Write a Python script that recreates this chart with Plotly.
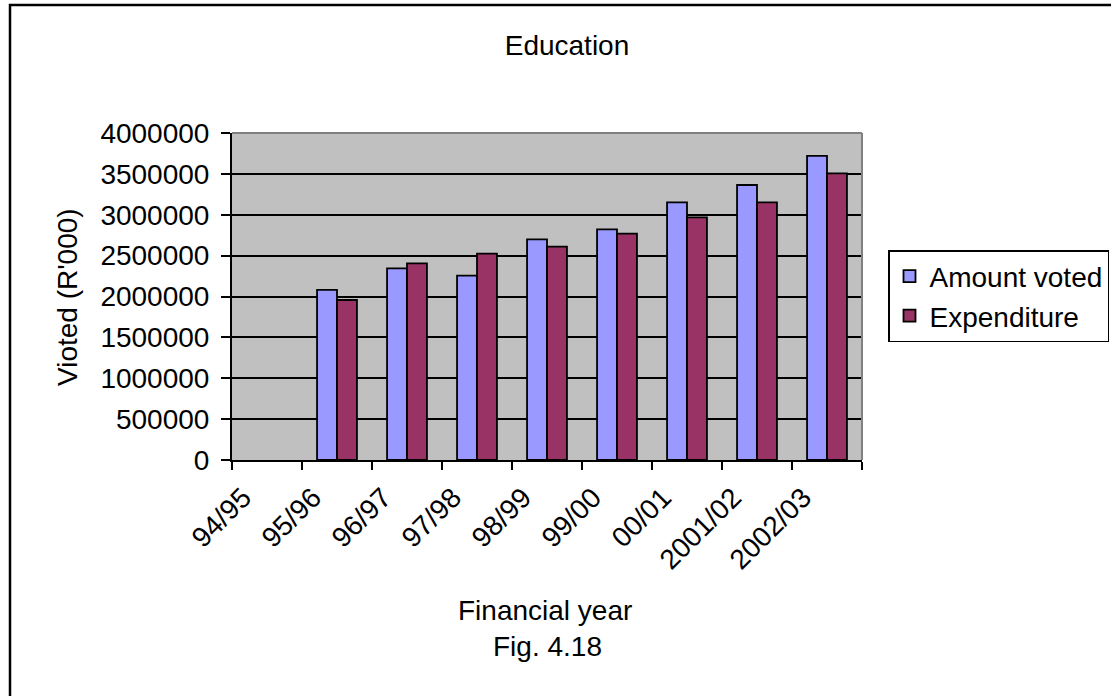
import plotly.graph_objects as go

# Financial years (94/95 has no recorded figures)
years = ["94/95", "95/96", "96/97", "97/98", "98/99", "99/00", "00/01", "2001/02", "2002/03"]
amount_voted = [None, 2080000, 2345000, 2255000, 2700000, 2822000, 3152000, 3364000, 3719000]
expenditure = [None, 1957000, 2406000, 2524000, 2610000, 2768000, 2969000, 3152000, 3507000]
y_ticks = [0, 500000, 1000000, 1500000, 2000000, 2500000, 3000000, 3500000, 4000000]

FONT = "Liberation Sans, Arial, sans-serif"
FS = 28
W, H = 1111, 696
L, R, T, B = 232, 249, 133, 236
PW, PH = W - L - R, H - T - B


def px_x(px):
    return (px - L) / PW


def px_y(py):
    return (H - B - py) / PH


fig = go.Figure()
fig.add_trace(go.Bar(
    name="Amount voted", x=years, y=amount_voted,
    marker=dict(color="#9999FF", line=dict(color="black", width=1.8)),
))
fig.add_trace(go.Bar(
    name="Expenditure", x=years, y=expenditure,
    marker=dict(color="#993366", line=dict(color="black", width=1.8)),
))

fig.update_layout(
    width=W, height=H,
    margin=dict(l=L, r=R, t=T, b=B, autoexpand=False),
    paper_bgcolor="white",
    plot_bgcolor="#C0C0C0",
    barmode="group",
    bargap=0.43,
    bargroupgap=0,
    font=dict(family=FONT, size=FS, color="black"),
    showlegend=True,
    legend=dict(
        x=px_x(888), y=px_y(250), xanchor="left", yanchor="top",
        bgcolor="white", bordercolor="black", borderwidth=1.5,
        font=dict(family=FONT, size=FS, color="black"),
        tracegroupgap=0, itemwidth=30,
    ),
    title=dict(
        text="Education", x=567 / W, xanchor="center",
        y=1 - 45 / H, yanchor="middle",
        font=dict(family=FONT, size=FS, color="black"),
    ),
)

fig.update_xaxes(
    type="category",
    tickson="boundaries",
    ticks="outside", ticklen=8, tickwidth=1.5, tickcolor="black",
    tickangle=-45,
    ticklabelshift=-24,
    ticklabelstandoff=8,
    showline=True, linecolor="black", linewidth=2,
    showgrid=False,
    tickfont=dict(family=FONT, size=FS, color="black"),
)
fig.update_yaxes(
    range=[0, 4000000],
    tickvals=y_ticks,
    ticktext=[str(v) for v in y_ticks],
    ticks="outside", ticklen=9, tickwidth=1.5, tickcolor="black",
    ticklabelstandoff=6,
    showline=True, linecolor="black", linewidth=2,
    showgrid=True, gridcolor="black", gridwidth=1.5,
    zeroline=False,
    tickfont=dict(family=FONT, size=FS, color="black"),
)

# Plot-area frame on the top and right sides, and the outer chart border
fig.add_shape(type="line", xref="paper", yref="paper", x0=0, x1=1, y0=1, y1=1,
              line=dict(color="#808080", width=2))
fig.add_shape(type="line", xref="paper", yref="paper", x0=1, x1=1, y0=0, y1=1,
              line=dict(color="#808080", width=2))
fig.add_shape(type="rect", xref="paper", yref="paper",
              x0=px_x(10), x1=px_x(1120), y0=px_y(705), y1=px_y(5),
              line=dict(color="black", width=2.5), layer="above")

fig.add_annotation(text="Vioted (R'000)", textangle=-90, xref="paper", yref="paper",
                   x=px_x(67), y=px_y(297), showarrow=False,
                   xanchor="center", yanchor="middle",
                   font=dict(family=FONT, size=FS, color="black"))
fig.add_annotation(text="Financial year", xref="paper", yref="paper",
                   x=px_x(545), y=px_y(610), showarrow=False,
                   xanchor="center", yanchor="middle",
                   font=dict(family=FONT, size=FS, color="black"))
fig.add_annotation(text="Fig. 4.18", xref="paper", yref="paper",
                   x=px_x(547), y=px_y(646), showarrow=False,
                   xanchor="center", yanchor="middle",
                   font=dict(family=FONT, size=FS, color="black"))

fig.write_html("out.html")
